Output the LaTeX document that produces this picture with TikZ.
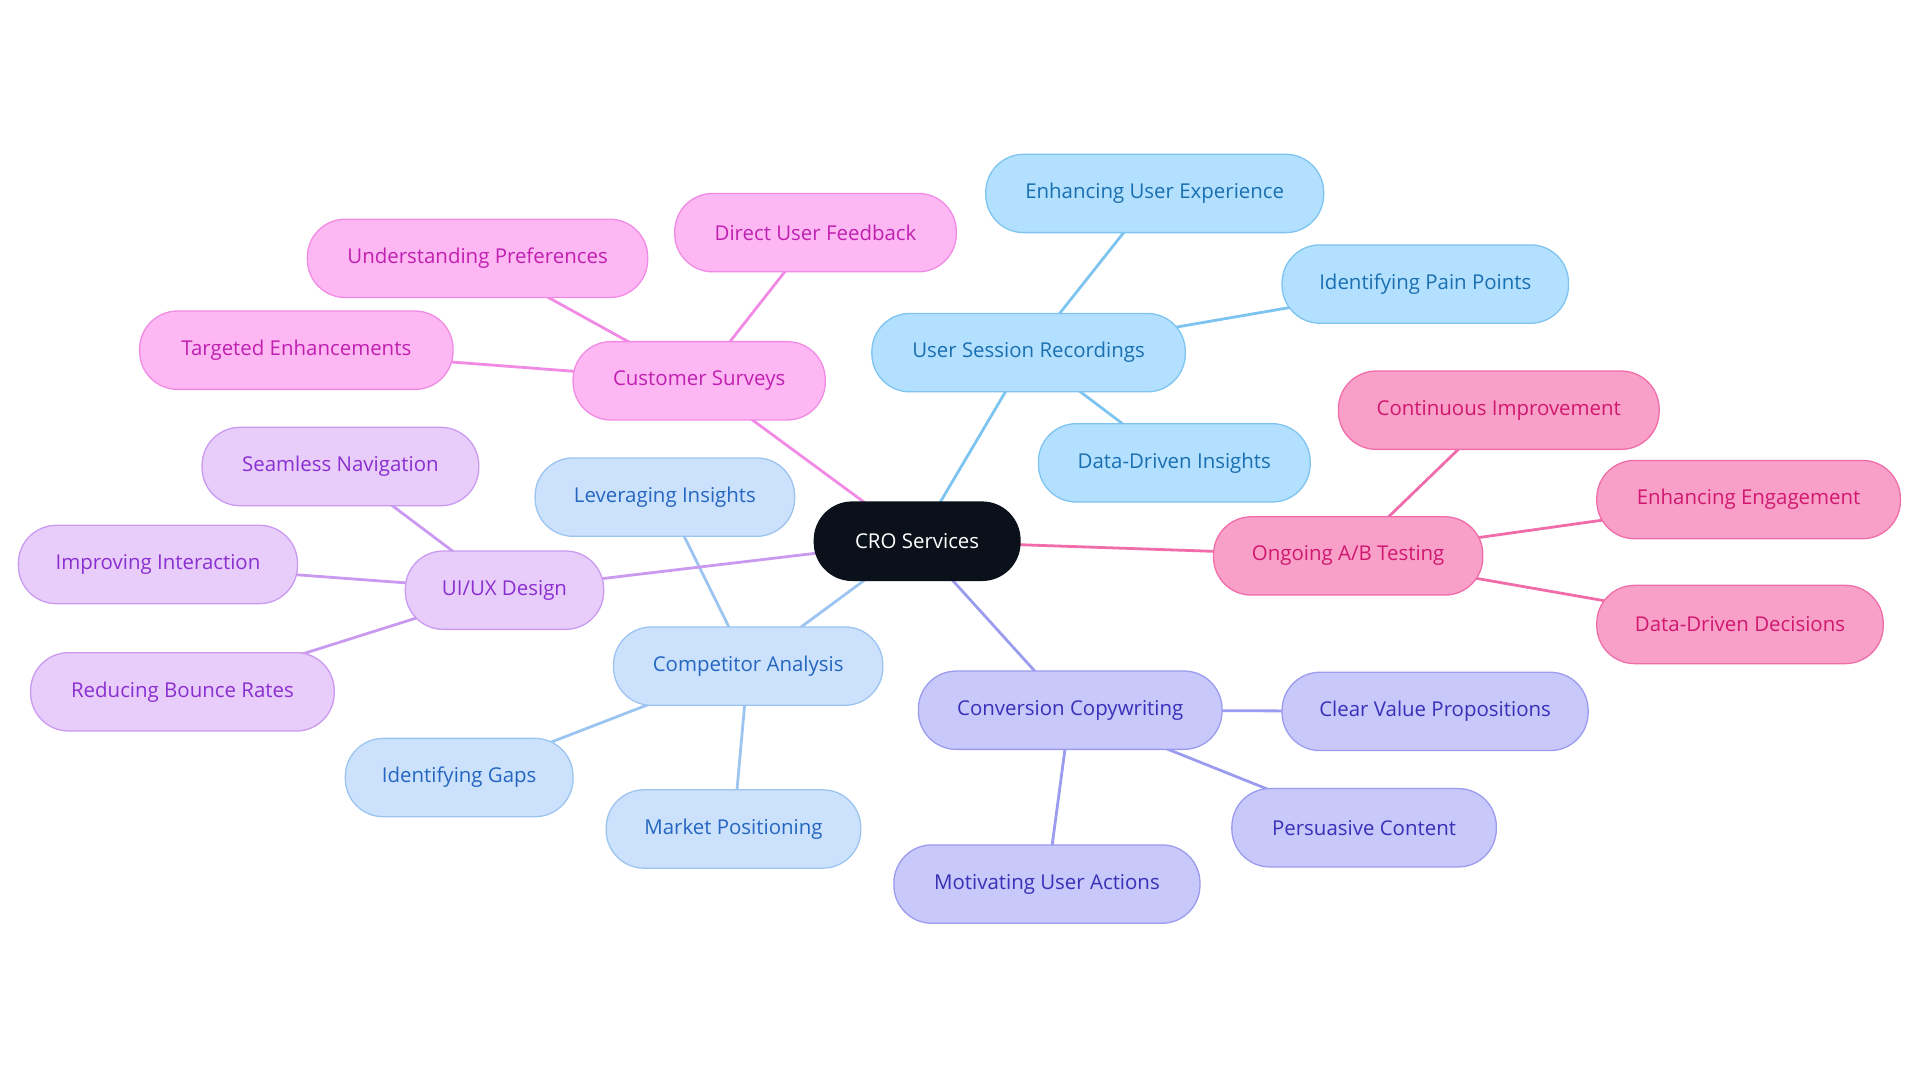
\documentclass[tikz,border=0pt]{standalone}
\usepackage{fontspec}
\setmainfont{Open Sans}
\usetikzlibrary{backgrounds}
\definecolor{bF}{HTML}{B3E0FF}\definecolor{bD}{HTML}{7DC4F0}\definecolor{bT}{HTML}{1A6FB0}
\definecolor{pF}{HTML}{F9A0C8}\definecolor{pD}{HTML}{F06DAA}\definecolor{pT}{HTML}{D01870}
\definecolor{vF}{HTML}{C8C8FA}\definecolor{vD}{HTML}{9B9BEF}\definecolor{vT}{HTML}{3A2FB8}
\definecolor{cF}{HTML}{CCE2FC}\definecolor{cD}{HTML}{9CC4F0}\definecolor{cT}{HTML}{2466C0}
\definecolor{uF}{HTML}{E8CCFA}\definecolor{uD}{HTML}{C99AF0}\definecolor{uT}{HTML}{8A2FD0}
\definecolor{mF}{HTML}{FDB8F4}\definecolor{mD}{HTML}{F08AE4}\definecolor{mT}{HTML}{C020B0}
\definecolor{dark}{HTML}{0B111A}
\tikzset{
 box/.style={rounded corners=0.62cm, minimum height=1.28cm, inner sep=0pt, font=\fontsize{9.5}{11}\selectfont, line width=0.6pt},
 bb/.style={box, fill=bF, draw=bD, text=bT},
 pb/.style={box, fill=pF, draw=pD, text=pT},
 vb/.style={box, fill=vF, draw=vD, text=vT},
 cb/.style={box, fill=cF, draw=cD, text=cT},
 ub/.style={box, fill=uF, draw=uD, text=uT},
 mb/.style={box, fill=mF, draw=mD, text=mT},
 ln/.style={line width=1.3pt}
}
\begin{document}
\begin{tikzpicture}[x=0.02cm,y=-0.02cm]
\useasboundingbox (0,0) rectangle (1568,884);
\node[box, fill=dark, draw=dark, text=white, minimum width=3.36cm] (root) at (749,442) {CRO Services};
\node[bb, minimum width=5.12cm] (usr) at (840,288) {User Session Recordings};
\node[bb, minimum width=5.52cm] (eux) at (943,158) {Enhancing User Experience};
\node[bb, minimum width=4.68cm] (ipp) at (1164,232) {Identifying Pain Points};
\node[bb, minimum width=4.44cm] (ddi) at (959,378) {Data-Driven Insights};
\node[pb, minimum width=4.40cm] (ab) at (1101,454) {Ongoing A/B Testing};
\node[pb, minimum width=5.24cm] (ci) at (1224,335) {Continuous Improvement};
\node[pb, minimum width=4.96cm] (ee) at (1428,408) {Enhancing Engagement};
\node[pb, minimum width=4.68cm] (ddd) at (1421,510) {Data-Driven Decisions};
\node[vb, minimum width=4.96cm] (cc) at (874,580) {Conversion Copywriting};
\node[vb, minimum width=5.00cm] (cvp) at (1172,581) {Clear Value Propositions};
\node[vb, minimum width=4.32cm] (pc) at (1114,676) {Persuasive Content};
\node[vb, minimum width=5.00cm] (mua) at (855,722) {Motivating User Actions};
\node[cb, minimum width=4.40cm] (ca) at (611,544) {Competitor Analysis};
\node[cb, minimum width=4.24cm] (li) at (543,406) {Leveraging Insights};
\node[cb, minimum width=3.72cm] (ig) at (375,635) {Identifying Gaps};
\node[cb, minimum width=4.16cm] (mp) at (599,677) {Market Positioning};
\node[ub, minimum width=3.24cm] (ux) at (412,482) {UI/UX Design};
\node[ub, minimum width=4.52cm] (sn) at (278,381) {Seamless Navigation};
\node[ub, minimum width=4.56cm] (ii) at (129,461) {Improving Interaction};
\node[ub, minimum width=4.96cm] (rbr) at (149,565) {Reducing Bounce Rates};
\node[mb, minimum width=4.12cm] (cs) at (571,311) {Customer Surveys};
\node[mb, minimum width=5.56cm] (up) at (390,211) {Understanding Preferences};
\node[mb, minimum width=4.60cm] (duf) at (666,190) {Direct User Feedback};
\node[mb, minimum width=5.12cm] (te) at (242,286) {Targeted Enhancements};
\begin{pgfonlayer}{background}
\draw[ln, bD] (root.center) -- (usr.center) (usr.center) -- (eux.center) (usr.center) -- (ipp.center) (usr.center) -- (ddi.center);
\draw[ln, pD] (root.center) -- (ab.center) (ab.center) -- (ci.center) (ab.center) -- (ee.center) (ab.center) -- (ddd.center);
\draw[ln, vD] (root.center) -- (cc.center) (cc.center) -- (cvp.center) (cc.center) -- (pc.center) (cc.center) -- (mua.center);
\draw[ln, cD] (root.center) -- (ca.center) (ca.center) -- (li.center) (ca.center) -- (ig.center) (ca.center) -- (mp.center);
\draw[ln, uD] (root.center) -- (ux.center) (ux.center) -- (sn.center) (ux.center) -- (ii.center) (ux.center) -- (rbr.center);
\draw[ln, mD] (root.center) -- (cs.center) (cs.center) -- (up.center) (cs.center) -- (duf.center) (cs.center) -- (te.center);
\end{pgfonlayer}
\end{tikzpicture}
\end{document}
